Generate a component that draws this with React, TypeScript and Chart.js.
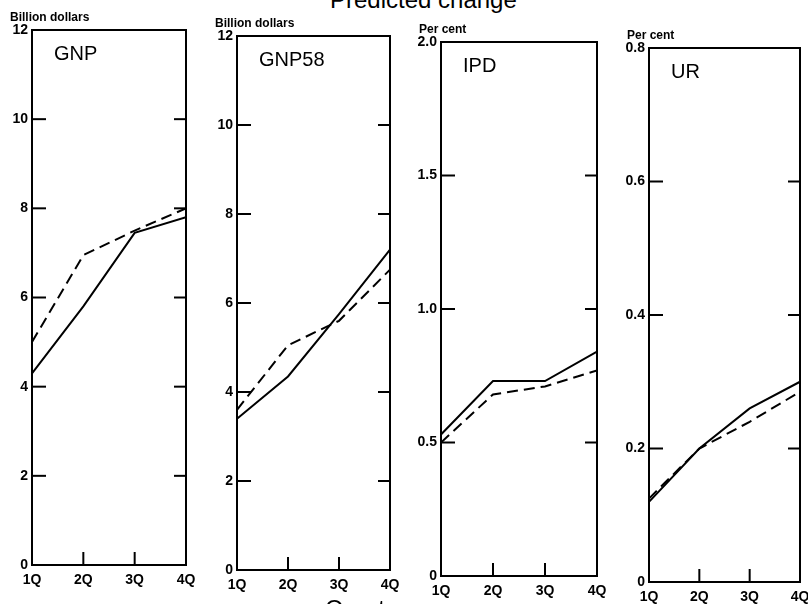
import React, { useEffect, useRef } from 'react';
import { Chart, registerables } from 'chart.js';
Chart.register(...registerables);

// ---- data ----
const QUARTERS = [1, 2, 3, 4];
const QUARTER_LABELS = ['1Q', '2Q', '3Q', '4Q'];
const PANEL_NAMES = ['GNP', 'GNP58', 'IPD', 'UR'];
const PANEL_UNITS = ['Billion dollars', 'Billion dollars', 'Per cent', 'Per cent'];
const PANEL_MAX = [12, 12, 2, 0.8];
const PANEL_STEP = [2, 2, 0.5, 0.2];
const PANEL_DECIMALS = [0, 0, 1, 1];

const GNP_SOLID = [4.3, 5.8, 7.45, 7.8];
const GNP_DASHED = [5.0, 6.95, 7.5, 8.0];
const GNP58_SOLID = [3.4, 4.35, 5.75, 7.2];
const GNP58_DASHED = [3.6, 5.05, 5.6, 6.75];
const IPD_SOLID = [0.53, 0.73, 0.73, 0.84];
const IPD_DASHED = [0.5, 0.68, 0.71, 0.77];
const UR_SOLID = [0.12, 0.2, 0.26, 0.3];
const UR_DASHED = [0.125, 0.2, 0.24, 0.285];

const SOLID_SERIES = [GNP_SOLID, GNP58_SOLID, IPD_SOLID, UR_SOLID];
const DASHED_SERIES = [GNP_DASHED, GNP58_DASHED, IPD_DASHED, UR_DASHED];

const TITLE = 'Predicted change';
const X_TITLE = 'Quarter';

// ---- layout (plot area boxes in page pixels) ----
const BOXES = [
  { l: 32, r: 186, t: 30, b: 565 },
  { l: 237, r: 390, t: 36, b: 570 },
  { l: 441, r: 597, t: 42, b: 576 },
  { l: 649, r: 800, t: 48, b: 582 },
];
const PAD_L = 40, PAD_T = 30, PAD_R = 18, PAD_B = 28;
const FONT = '"Liberation Sans", Arial, sans-serif';

const framePlugin = {
  id: 'frame',
  afterDraw(chart: any, _args: any, opts: any) {
    const { ctx, chartArea: a, scales } = chart;
    ctx.save();
    ctx.strokeStyle = '#000';
    ctx.fillStyle = '#000';
    ctx.lineWidth = 2;
    ctx.strokeRect(a.left, a.top, a.right - a.left, a.bottom - a.top);
    const line = (x1: number, y1: number, x2: number, y2: number) => {
      ctx.beginPath(); ctx.moveTo(x1, y1); ctx.lineTo(x2, y2); ctx.stroke();
    };
    const ys = scales.y;
    ys.ticks.forEach((t: any) => {
      if (t.value <= ys.min || t.value >= ys.max) return;
      const py = ys.getPixelForValue(t.value);
      line(a.left, py, a.left + 14, py);
      line(a.right - 12, py, a.right, py);
    });
    const xs = scales.x;
    xs.ticks.forEach((t: any) => {
      if (t.value <= xs.min || t.value >= xs.max) return;
      const px = xs.getPixelForValue(t.value);
      line(px, a.bottom, px, a.bottom - 13);
    });
    ctx.textBaseline = 'alphabetic';
    ctx.textAlign = 'left';
    ctx.font = `20px ${FONT}`;
    ctx.fillText(opts.name, a.left + 22, a.top + 30);
    ctx.font = `bold 12px ${FONT}`;
    ctx.fillText(opts.unit, a.left - 22, a.top - 9);
    ctx.restore();
  },
};

function Panel({ idx }: { idx: number }) {
  const ref = useRef<HTMLCanvasElement>(null);
  const box = BOXES[idx];
  const w = box.r - box.l + PAD_L + PAD_R;
  const h = box.b - box.t + PAD_T + PAD_B;
  useEffect(() => {
    const dec = PANEL_DECIMALS[idx];
    const chart = new Chart(ref.current as HTMLCanvasElement, {
      type: 'line',
      data: {
        datasets: [
          {
            data: QUARTERS.map((q, i) => ({ x: q, y: SOLID_SERIES[idx][i] })),
            borderColor: '#000', borderWidth: 2, pointRadius: 0, tension: 0,
          },
          {
            data: QUARTERS.map((q, i) => ({ x: q, y: DASHED_SERIES[idx][i] })),
            borderColor: '#000', borderWidth: 2, borderDash: [11, 6], pointRadius: 0, tension: 0,
          },
        ],
      },
      options: {
        animation: false,
        responsive: false,
        events: [],
        layout: { padding: { left: 0, top: PAD_T, right: PAD_R, bottom: 0 } },
        plugins: {
          legend: { display: false },
          tooltip: { enabled: false },
          title: { display: false },
          frame: { name: PANEL_NAMES[idx], unit: PANEL_UNITS[idx] },
        } as any,
        scales: {
          x: {
            type: 'linear', min: 1, max: 4,
            afterFit: (s: any) => { s.height = PAD_B; },
            grid: { display: false, drawTicks: false },
            border: { display: false },
            ticks: {
              stepSize: 1, padding: 7, color: '#000', maxRotation: 0,
              font: { family: FONT, size: 14, weight: 'bold' },
              callback: (v: any) => QUARTER_LABELS[QUARTERS.indexOf(Number(v))] ?? '',
            },
          },
          y: {
            min: 0, max: PANEL_MAX[idx],
            afterFit: (s: any) => { s.width = PAD_L; },
            grid: { display: false, drawTicks: false },
            border: { display: false },
            ticks: {
              stepSize: PANEL_STEP[idx], padding: 4, color: '#000',
              font: { family: FONT, size: 14, weight: 'bold' },
              callback: (v: any) => (Number(v) === 0 ? '0' : Number(v).toFixed(dec)),
            },
          },
        },
      } as any,
      plugins: [framePlugin],
    });
    return () => chart.destroy();
  }, [idx]);
  return (
    <canvas
      ref={ref}
      width={w}
      height={h}
      style={{ position: 'absolute', left: box.l - PAD_L, top: box.t - PAD_T, width: w, height: h, display: 'block' }}
    />
  );
}

export default function App() {
  return (
    <div style={{ position: 'fixed', left: 0, top: 0, width: 808, height: 604, overflow: 'hidden', background: '#fff' }}>
      <div style={{ position: 'absolute', left: 330, top: -12, font: `24px ${FONT}`, lineHeight: '24px', color: '#000', whiteSpace: 'nowrap' }}>
        {TITLE}
      </div>
      {PANEL_NAMES.map((_, i) => <Panel key={i} idx={i} />)}
      <div style={{ position: 'absolute', left: 325, top: 597, font: `24px ${FONT}`, lineHeight: '24px', color: '#000', whiteSpace: 'nowrap' }}>
        {X_TITLE}
      </div>
    </div>
  );
}
